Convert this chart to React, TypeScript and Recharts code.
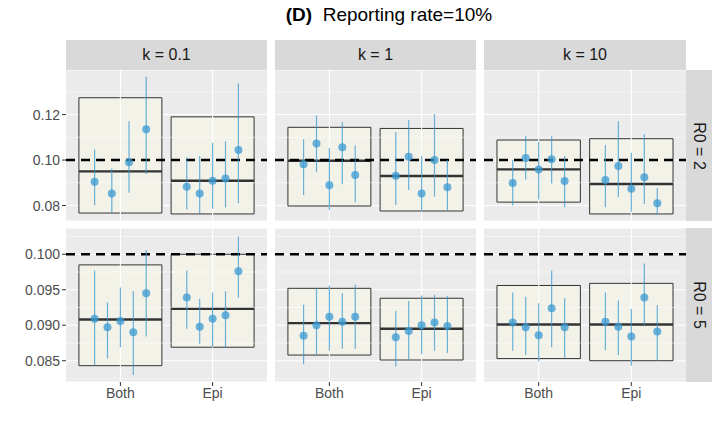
import React from "react";
import {
  CartesianGrid,
  ComposedChart,
  ErrorBar,
  ReferenceArea,
  ReferenceLine,
  Scatter,
  XAxis,
  YAxis,
} from "recharts";

// categories and facets
const groups = ["Both", "Epi"];
const kLabels = ["k = 0.1", "k = 1", "k = 10"];
const r0Labels = ["R0 = 2", "R0 = 5"];

// y ticks per row
const ticksR2 = [0.08, 0.1, 0.12];
const minorR2 = [0.09, 0.11, 0.13];
const ticksR5 = [0.085, 0.09, 0.095, 0.1];
const minorR5 = [0.0825, 0.0875, 0.0925, 0.0975, 0.1025];

// points: [estimate, lower, upper]
const r2k01Both = [[0.0905, 0.0802, 0.1047], [0.0853, 0.0769, 0.0963], [0.099, 0.0856, 0.1171], [0.1136, 0.0938, 0.1366]];
const r2k01Epi = [[0.0883, 0.0783, 0.1012], [0.0853, 0.0766, 0.1018], [0.0909, 0.0786, 0.1076], [0.0919, 0.0792, 0.1083], [0.1044, 0.081, 0.1337]];
const r2k1Both = [[0.0982, 0.0846, 0.1092], [0.1073, 0.0947, 0.1196], [0.0889, 0.078, 0.1053], [0.1056, 0.0894, 0.1167], [0.0934, 0.0815, 0.1064]];
const r2k1Epi = [[0.0931, 0.0802, 0.1123], [0.1015, 0.0868, 0.1176], [0.0853, 0.0773, 0.1018], [0.1, 0.0839, 0.1202], [0.088, 0.078, 0.1]];
const r2k10Both = [[0.0899, 0.08, 0.1], [0.1009, 0.0915, 0.1105], [0.0959, 0.0827, 0.1079], [0.1003, 0.0897, 0.1105], [0.0908, 0.0792, 0.1018]];
const r2k10Epi = [[0.0912, 0.0792, 0.1066], [0.0974, 0.0836, 0.1171], [0.0874, 0.0773, 0.1032], [0.0924, 0.0807, 0.1114], [0.081, 0.0758, 0.0877]];
const r5k01Both = [[0.0909, 0.0844, 0.0977], [0.0897, 0.0853, 0.0932], [0.0906, 0.0869, 0.0953], [0.089, 0.083, 0.0948], [0.0945, 0.0884, 0.1006]];
const r5k01Epi = [[0.0939, 0.0895, 0.0977], [0.0898, 0.0874, 0.0937], [0.0909, 0.0869, 0.0946], [0.0914, 0.0868, 0.0948], [0.0976, 0.0939, 0.1025]];
const r5k1Both = [[0.0885, 0.0845, 0.0929], [0.09, 0.0858, 0.0952], [0.0912, 0.0864, 0.0956], [0.0905, 0.0867, 0.0945], [0.0912, 0.0867, 0.0957]];
const r5k1Epi = [[0.0883, 0.0842, 0.092], [0.0892, 0.0852, 0.0934], [0.09, 0.0859, 0.0942], [0.0904, 0.0864, 0.0943], [0.0899, 0.0861, 0.0941]];
const r5k10Both = [[0.0904, 0.0864, 0.0946], [0.0897, 0.0858, 0.094], [0.0886, 0.0849, 0.0931], [0.0924, 0.0869, 0.0977], [0.0897, 0.0854, 0.0938]];
const r5k10Epi = [[0.0905, 0.0865, 0.0946], [0.0898, 0.0858, 0.0935], [0.0884, 0.0843, 0.0923], [0.0939, 0.09, 0.0987], [0.0891, 0.085, 0.0928]];

// boxes: [lower, upper, median]
const boxesR2 = [
  [[0.0767, 0.1274, 0.095], [0.0763, 0.119, 0.0909]],
  [[0.0798, 0.1144, 0.0997], [0.0776, 0.1139, 0.093]],
  [[0.0815, 0.1088, 0.0959], [0.0763, 0.1094, 0.0895]],
];
const boxesR5 = [
  [[0.0843, 0.0985, 0.0908], [0.0869, 0.1, 0.0923]],
  [[0.0858, 0.0952, 0.0903], [0.0851, 0.0938, 0.0895]],
  [[0.0853, 0.0956, 0.0901], [0.085, 0.0959, 0.0901]],
];

const pointsR2 = [[r2k01Both, r2k01Epi], [r2k1Both, r2k1Epi], [r2k10Both, r2k10Epi]];
const pointsR5 = [[r5k01Both, r5k01Epi], [r5k1Both, r5k1Epi], [r5k10Both, r5k10Epi]];

const rows = [
  { domain: [0.0732, 0.1396], ticks: ticksR2, minor: minorR2, fmt: (v: number) => v.toFixed(2), boxes: boxesR2, points: pointsR2, top: 70, h: 151 },
  { domain: [0.082, 0.1037], ticks: ticksR5, minor: minorR5, fmt: (v: number) => v.toFixed(3), boxes: boxesR5, points: pointsR5, top: 228, h: 154 },
];
const cols = [
  { left: 66, w: 201 },
  { left: 275, w: 201 },
  { left: 484, w: 202 },
];

const FONT = '"Liberation Sans", Arial, sans-serif';
const BLUE = "#3A9AD0";

function Panel({ r, c }: { r: number; c: number }) {
  const row = rows[r];
  const col = cols[c];
  const yw = c === 0 ? 66 : 0;
  const xh = r === 1 ? 24 : 0;
  const data = row.points[c].flatMap((pts, g) =>
    pts.map(([y, lo, hi], i) => {
      const off = pts.length > 1 ? -0.28 + (0.56 * i) / (pts.length - 1) : 0;
      return { x: g + 1 + off, y, err: [y - lo, hi - y] };
    })
  );
  return (
    <div style={{ position: "absolute", left: col.left - yw, top: row.top }}>
      <ComposedChart
        width={col.w + yw}
        height={row.h + xh}
        data={data}
        margin={{ top: 0, right: 0, bottom: 0, left: 0 }}
      >
        <CartesianGrid fill="#EBEBEB" stroke="#FFFFFF" strokeWidth={1.1} vertical={false} />
        <XAxis
          type="number"
          dataKey="x"
          domain={[0.41, 2.59]}
          ticks={[1, 2]}
          tickFormatter={(v) => groups[v - 1]}
          hide={r !== 1}
          height={xh}
          axisLine={false}
          tickLine={{ stroke: "#333333" }}
          tickSize={4}
          tick={{ fill: "#4D4D4D", fontSize: 14, fontFamily: FONT }}
          allowDataOverflow
        />
        <YAxis
          type="number"
          dataKey="y"
          domain={row.domain}
          ticks={row.ticks}
          tickFormatter={row.fmt}
          hide={c !== 0}
          width={yw}
          axisLine={false}
          tickLine={{ stroke: "#333333" }}
          tickSize={4}
          tick={{ fill: "#4D4D4D", fontSize: 14, fontFamily: FONT }}
          allowDataOverflow
        />
        {row.minor.map((m) => (
          <ReferenceLine key={"m" + m} y={m} stroke="#FFFFFF" strokeWidth={0.5} ifOverflow="hidden" />
        ))}
        {[1, 2].map((x) => (
          <ReferenceLine key={"v" + x} x={x} stroke="#FFFFFF" strokeWidth={1.1} />
        ))}
        {row.boxes[c].map(([lo, hi], g) => (
          <ReferenceArea
            key={"b" + g}
            x1={g + 0.55}
            x2={g + 1.45}
            y1={lo}
            y2={hi}
            fill="#F3F2E9"
            fillOpacity={1}
            stroke="#333333"
            strokeWidth={1}
            ifOverflow="hidden"
          />
        ))}
        {row.boxes[c].map(([, , med], g) => (
          <ReferenceLine
            key={"md" + g}
            segment={[{ x: g + 0.55, y: med }, { x: g + 1.45, y: med }]}
            stroke="#333333"
            strokeWidth={2.4}
          />
        ))}
        <ReferenceLine y={0.1} stroke="#000000" strokeWidth={2.6} strokeDasharray="9 6" />
        <Scatter
          dataKey="y"
          fill={BLUE}
          fillOpacity={0.75}
          isAnimationActive={false}
          shape={(p: any) => <circle cx={p.cx} cy={p.cy} r={4} fill={BLUE} fillOpacity={0.75} />}
        >
          <ErrorBar dataKey="err" direction="y" width={0} stroke={BLUE} strokeOpacity={0.75} strokeWidth={1.2} />
        </Scatter>
      </ComposedChart>
    </div>
  );
}

export default function App() {
  return (
    <div
      style={{
        position: "absolute",
        left: 0,
        top: 0,
        width: 720,
        height: 432,
        background: "#FFFFFF",
        fontFamily: FONT,
        overflow: "hidden",
      }}
    >
      <div style={{ position: "absolute", left: 66, width: 646, top: 4, textAlign: "center", fontSize: 19, color: "#000" }}>
        <b>(D)</b>&nbsp; Reporting rate=10%
      </div>
      {cols.map((col, c) => (
        <div
          key={"s" + c}
          style={{
            position: "absolute",
            left: col.left,
            top: 40,
            width: col.w,
            height: 30,
            background: "#D9D9D9",
            color: "#1A1A1A",
            fontSize: 16,
            display: "flex",
            alignItems: "center",
            justifyContent: "center",
          }}
        >
          {kLabels[c]}
        </div>
      ))}
      {rows.map((row, r) => (
        <div
          key={"rs" + r}
          style={{
            position: "absolute",
            left: 686,
            top: row.top,
            width: 26,
            height: row.h,
            background: "#D9D9D9",
            color: "#1A1A1A",
            fontSize: 16,
            display: "flex",
            alignItems: "center",
            justifyContent: "center",
          }}
        >
          <span style={{ transform: "rotate(90deg)", whiteSpace: "nowrap" }}>{r0Labels[r]}</span>
        </div>
      ))}
      {rows.map((_, r) => cols.map((_, c) => <Panel key={r + "-" + c} r={r} c={c} />))}
    </div>
  );
}
